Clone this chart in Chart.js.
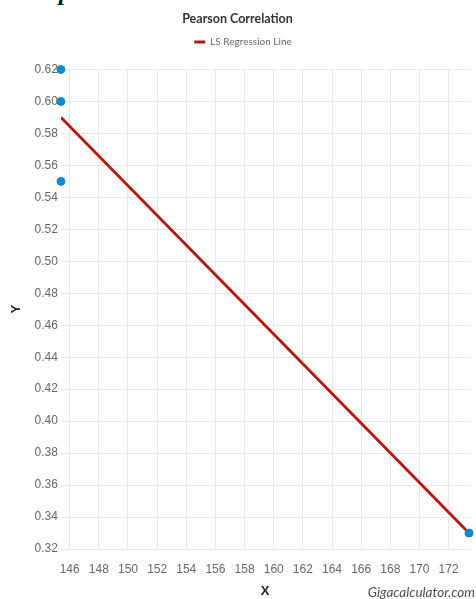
<!DOCTYPE html>
<html>
<head>
<meta charset="utf-8">
<script src="https://cdn.jsdelivr.net/npm/chart.js@4.4.0/dist/chart.umd.min.js"></script>
<style>
  html, body { margin: 0; padding: 0; background: #fff; }
  #wrap { position: relative; width: 476px; height: 599px; overflow: hidden; }
  #heading { position: absolute; left: 59px; top: -20px; margin: 0;
             font: italic bold 24px 'Liberation Serif', serif; line-height: 24px; color: #111; }
  #credit { position: absolute; right: 1px; top: 584px;
            font: italic 13.5px Lato, 'Open Sans', sans-serif; line-height: 17px; color: #4d4d4d; }
  canvas { position: absolute; left: 0; top: 0; }
</style>
</head>
<body>
<div id="wrap">
  <div id="heading">p</div>
  <canvas id="chart" width="476" height="599"></canvas>
  <div id="credit">Gigacalculator.com</div>
</div>
<script>
// Observed samples
const sampleX = [145.4, 145.4, 145.4, 173.4];
const sampleY = [0.62, 0.60, 0.55, 0.33];

// Least-squares regression line end points
const fitX = [145.4, 173.4];
const fitY = [0.59, 0.33];

// Axis ticks
const xTickValues = [146, 148, 150, 152, 154, 156, 158, 160, 162, 164, 166, 168, 170, 172];
const yTickValues = [0.32, 0.34, 0.36, 0.38, 0.40, 0.42, 0.44, 0.46, 0.48, 0.50,
                     0.52, 0.54, 0.56, 0.58, 0.60, 0.62];

const pointColor = '#1189d0';
const lineColor = '#b5180f';
const gridColor = '#e8e8e8';
const tickFont = { family: "'Liberation Sans', Arial, sans-serif", size: 12 };
const axisTitleFont = { family: "'Liberation Sans', Arial, sans-serif", size: 13, weight: 'bold' };

// Header spacing: more room under the legend, and a slight right shift of title and legend
const headerLayout = {
  id: 'headerLayout',
  afterInit(chart) {
    const fit = chart.legend.fit;
    chart.legend.fit = function () {
      fit.call(this);
      this.height += 12.5;
    };
  },
  afterLayout(chart) {
    chart.legend.left += 17;
    chart.titleBlock.left += 6;
  }
};

new Chart(document.getElementById('chart'), {
  type: 'scatter',
  data: {
    datasets: [
      {
        label: 'Data',
        data: sampleX.map((x, i) => ({ x, y: sampleY[i] })),
        backgroundColor: pointColor,
        borderColor: pointColor,
        pointRadius: 4,
        pointHoverRadius: 4,
        clip: false
      },
      {
        label: 'LS Regression Line',
        data: fitX.map((x, i) => ({ x, y: fitY[i] })),
        showLine: true,
        borderColor: lineColor,
        backgroundColor: lineColor,
        borderWidth: 3,
        pointRadius: 0,
        fill: false
      }
    ]
  },
  options: {
    responsive: false,
    animation: false,
    layout: { padding: { left: 0, right: 7, top: 0, bottom: 0 } },
    plugins: {
      tooltip: { enabled: false },
      title: {
        display: true,
        text: 'Pearson Correlation',
        color: '#333',
        font: { family: "Lato, 'Open Sans', sans-serif", size: 12.5, weight: 'bold' },
        padding: { top: 11, bottom: 3 }
      },
      legend: {
        display: true,
        labels: {
          color: '#666',
          font: { family: "Lato, 'Open Sans', sans-serif", size: 10 },
          boxWidth: 11,
          boxHeight: 3,
          padding: 8,
          generateLabels(chart) {
            return Chart.defaults.plugins.legend.labels.generateLabels(chart)
              .filter(item => item.datasetIndex === 1)
              .map(item => Object.assign(item, { lineWidth: 0, fillStyle: lineColor }));
          }
        }
      }
    },
    scales: {
      x: {
        type: 'linear',
        min: Math.min(...sampleX, ...fitX),
        max: Math.max(...sampleX, ...fitX),
        afterBuildTicks(scale) { scale.ticks = xTickValues.map(v => ({ value: v })); },
        grid: { color: gridColor, drawTicks: false },
        border: { display: false },
        ticks: { color: '#666', font: tickFont, padding: 13, maxRotation: 0, autoSkip: false,
                 callback: v => String(v) },
        title: { display: true, text: 'X', color: '#222', font: axisTitleFont,
                 padding: { top: -6, bottom: 0 } }
      },
      y: {
        type: 'linear',
        min: yTickValues[0],
        max: yTickValues[yTickValues.length - 1],
        afterBuildTicks(scale) { scale.ticks = yTickValues.map(v => ({ value: v })); },
        grid: { color: gridColor, drawTicks: false },
        border: { display: false },
        ticks: { color: '#666', font: tickFont, padding: 3, autoSkip: false,
                 callback: v => Number(v).toFixed(2) },
        title: { display: true, text: 'Y', color: '#222', font: axisTitleFont,
                 padding: { top: 9, bottom: 7 } }
      }
    }
  },
  plugins: [headerLayout]
});
</script>
</body>
</html>
